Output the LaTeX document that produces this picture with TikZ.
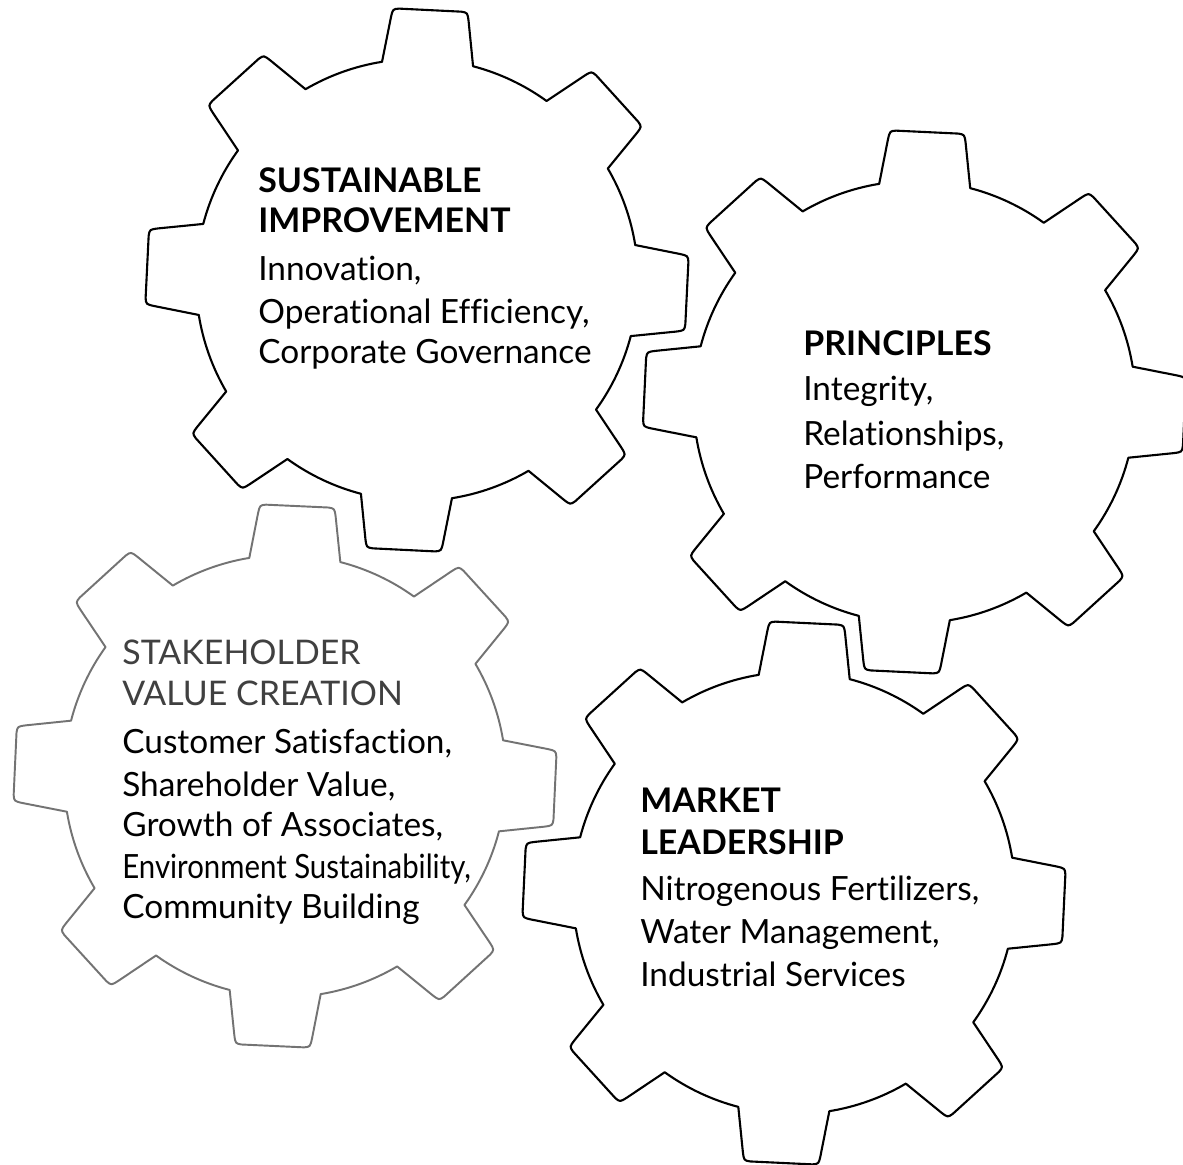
\documentclass[tikz,border=0pt]{standalone}
\usepackage{fontspec}
\setmainfont{Lato}[Ligatures={NoCommon}]
\newcommand\drawgear[4]{% cx, cy, rotation, style
  \begin{scope}[shift={(#1,#2)}]
    \draw[#4] (#3-11.9:221)
      \foreach \k [evaluate=\k as \a using #3+45*\k] in {0,...,7}{
        -- (\a-8.47:264) .. controls (\a-7.9:272) .. (\a-6.6:272)
        -- (\a+6.6:272) .. controls (\a+7.9:272) .. (\a+8.47:264)
        -- (\a+11.9:221) arc[start angle=\a+11.9, end angle=\a+33.1, radius=221]
      } -- cycle;
  \end{scope}}
\begin{document}
\begin{tikzpicture}[x=0.02cm, y=-0.02cm,
  gearline/.style={draw=black, line width=1.2pt, line join=round},
  greygear/.style={draw=black!55, line width=1.1pt, line join=round},
  head/.style={anchor=base west, inner sep=0pt, font=\fontsize{19.3}{23}\selectfont\bfseries},
  greyhead/.style={anchor=base west, inner sep=0pt, text=black!75, font=\fontsize{19.3}{23}\selectfont},
  body/.style={anchor=base west, inner sep=0pt, font=\fontsize{19}{23}\selectfont}]
\useasboundingbox (0,0) rectangle (1183,1164);
\fill[white] (0,0) rectangle (1183,1164);

% gears
\drawgear{417}{280}{-87.2}{gearline}
\drawgear{914.5}{402}{-87.3}{gearline}
\drawgear{285}{776}{-87.4}{greygear}
\drawgear{794}{893}{-87.3}{gearline}

% Sustainable improvement
\node[head] (si1) at (258,192) {SUSTAINABLE};
\node[head] (si2) at (258,232) {IMPROVEMENT};
\node[body] (si3) at (258,280) {Innovation,};
\node[body] (si4) at (258,323) {Operational Efficiency,};
\node[body] (si5) at (258,363) {Corporate Governance};

% Principles
\node[head] (pr1) at (803,355) {PRINCIPLES};
\node[body] (pr2) at (803,400) {Integrity,};
\node[body] (pr3) at (803,445) {Relationships,};
\node[body] (pr4) at (803,488) {Performance};

% Stakeholder value creation
\node[greyhead] (sv1) at (122,664) {STAKEHOLDER};
\node[greyhead] (sv2) at (122,705) {VALUE CREATION};
\node[body] (sv3) at (122,753) {Customer Satisfaction,};
\node[body] (sv4) at (122,796) {Shareholder Value,};
\node[body] (sv5) at (122,836) {Growth of Associates,};
\node[body] (sv6) at (122,878) {\scalebox{0.88}[1]{Environment Sustainability,}};
\node[body] (sv7) at (122,918) {Community Building};

% Market leadership
\node[head] (ml1) at (640,812) {MARKET};
\node[head] (ml2) at (640,854) {LEADERSHIP};
\node[body] (ml3) at (640,900) {Nitrogenous Fertilizers,};
\node[body] (ml4) at (640,943) {Water Management,};
\node[body] (ml5) at (640,986) {Industrial Services};
\end{tikzpicture}
\end{document}
